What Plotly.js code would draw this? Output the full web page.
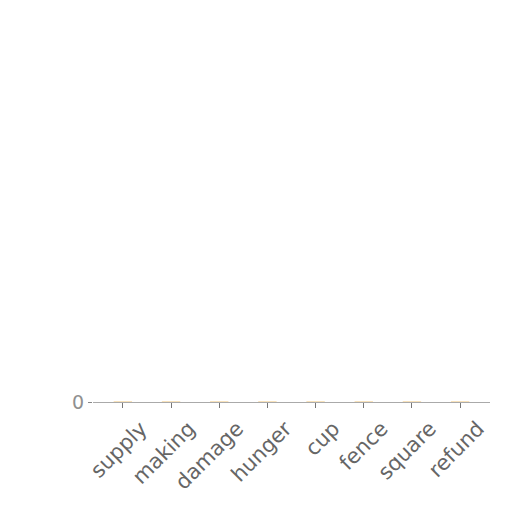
<!DOCTYPE html>
<html>
<head>
<meta charset="utf-8">
<script src="https://cdn.plot.ly/plotly-3.0.1.min.js"></script>
<style>
  html, body { margin: 0; padding: 0; background: #fff; }
  #chart { width: 512px; height: 512px; }
</style>
</head>
<body>
<div id="chart"></div>
<script>
// categories along the x axis
var categories = ['supply', 'making', 'damage', 'hunger', 'cup', 'fence', 'square', 'refund'];
// every bar sits at zero
var values = [0, 0, 0, 0, 0, 0, 0, 0];

var trace = {
    type: 'bar',
    x: categories,
    y: values,
    width: 0.38,
    marker: {
        color: '#f2c27a',
        line: { color: 'rgba(240,196,120,0.6)', width: 1 }
    },
    hoverinfo: 'x+y'
};

var layout = {
    width: 512,
    height: 512,
    margin: { l: 93, r: 22, t: 20, b: 110 },
    paper_bgcolor: '#ffffff',
    plot_bgcolor: '#ffffff',
    showlegend: false,
    font: { family: 'DejaVu Sans', size: 21, color: '#666666' },
    xaxis: {
        type: 'category',
        range: [-0.62, 7.62],
        tickangle: -45,
        ticks: 'outside',
        ticklen: 5,
        tickwidth: 1,
        tickcolor: '#777777',
        ticklabelshift: 18,
        showline: true,
        linecolor: '#aaaaaa',
        linewidth: 1,
        layer: 'below traces',
        showgrid: false,
        zeroline: false,
        tickfont: { family: 'DejaVu Sans', size: 21, color: '#666666' }
    },
    yaxis: {
        range: [0, 1],
        tickvals: [0],
        ticktext: ['0'],
        ticks: 'outside',
        ticklen: 4,
        tickcolor: '#888888',
        showgrid: false,
        zeroline: false,
        showline: false,
        tickfont: { family: 'DejaVu Sans', size: 19, color: '#909090' }
    }
};

Plotly.newPlot('chart', [trace], layout, { displayModeBar: false, staticPlot: true });
</script>
</body>
</html>
